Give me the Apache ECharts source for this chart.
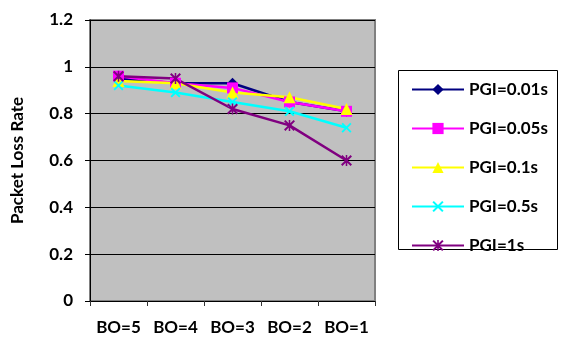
<!DOCTYPE html>
<html><head><meta charset="utf-8">
<script src="https://cdn.jsdelivr.net/npm/echarts@6/dist/echarts.min.js"></script>
<style>html,body{margin:0;padding:0;background:#fff}#c{width:561px;height:338px}</style>
</head><body><div id="c"></div>
<script>
const categories = ['BO=5', 'BO=4', 'BO=3', 'BO=2', 'BO=1'];
const seriesNames = ['PGI=0.01s', 'PGI=0.05s', 'PGI=0.1s', 'PGI=0.5s', 'PGI=1s'];
const pgi001 = [0.95, 0.93, 0.93, 0.85, 0.81];
const pgi005 = [0.96, 0.93, 0.91, 0.85, 0.81];
const pgi01  = [0.94, 0.93, 0.89, 0.87, 0.82];
const pgi05  = [0.92, 0.89, 0.85, 0.81, 0.74];
const pgi1   = [0.96, 0.95, 0.82, 0.75, 0.60];
const yTickLabels = ['0', '0.2', '0.4', '0.6', '0.8', '1', '1.2'];

const FONT = 'Lato';
const xPath = 'path://M0,1.3L1.3,0L5,3.7L8.7,0L10,1.3L6.3,5L10,8.7L8.7,10L5,6.3L1.3,10L0,8.7L3.7,5Z';
const starPath = 'path://M0,1.3L1.3,0L5,3.7L8.7,0L10,1.3L6.3,5L10,8.7L8.7,10L5,6.3L1.3,10L0,8.7L3.7,5ZM4.3,0L5.7,0L5.7,10L4.3,10Z';

const styles = [
  {color: '#000080', symbol: 'diamond', size: 11},
  {color: '#FF00FF', symbol: 'rect', size: 11},
  {color: '#FFFF00', symbol: 'triangle', size: 12},
  {color: '#00FFFF', symbol: xPath, size: 10},
  {color: '#800080', symbol: starPath, size: 11}
];
const dataSets = [pgi001, pgi005, pgi01, pgi05, pgi1];

const chart = echarts.init(document.getElementById('c'), null, {renderer: 'canvas'});
chart.setOption({
  animation: false,
  backgroundColor: '#fff',
  grid: {left: 90, top: 20, width: 285, height: 281, show: true,
         backgroundColor: '#C0C0C0', borderColor: '#808080', borderWidth: 2},
  graphic: [{type: 'rect', shape: {x: 398.5, y: 70.5, width: 159, height: 179},
             style: {fill: '#fff', stroke: '#000', lineWidth: 1}, z: 0}],
  legend: {
    orient: 'vertical', left: 398, top: 70, padding: [11, 8, 11, 13],
    itemWidth: 52, itemHeight: 14, itemGap: 22, z: 10,
    textStyle: {fontFamily: FONT, fontWeight: 'bold', fontSize: 17, color: '#000'},
    data: seriesNames
  },
  xAxis: {
    type: 'category', data: categories, boundaryGap: true,
    axisLine: {lineStyle: {color: '#000', width: 1}},
    axisTick: {show: true, alignWithLabel: false, interval: 0, length: 5, lineStyle: {color: '#333'}},
    axisLabel: {interval: 0, hideOverlap: false, fontFamily: FONT, fontWeight: 'bold', fontSize: 17, color: '#000', margin: 18},
    splitLine: {show: false}
  },
  yAxis: {
    type: 'value', min: 0, max: 1.2, interval: 0.2,
    name: 'Packet Loss Rate', nameLocation: 'middle', nameRotate: 90, nameGap: 64,
    nameTextStyle: {fontFamily: FONT, fontWeight: 'bold', fontSize: 17, color: '#000'},
    axisLine: {show: true, lineStyle: {color: '#000', width: 1}},
    axisTick: {show: true, length: 5, lineStyle: {color: '#000'}},
    axisLabel: {fontFamily: FONT, fontWeight: 'bold', fontSize: 17, color: '#000', margin: 17,
      formatter: (v, i) => yTickLabels[i]},
    splitLine: {show: true, lineStyle: {color: '#000', width: 1}}
  },
  series: dataSets.map((d, i) => ({
    name: seriesNames[i], type: 'line', data: d,
    symbol: styles[i].symbol, symbolSize: styles[i].size, showAllSymbol: true,
    lineStyle: {color: styles[i].color, width: 2.5},
    itemStyle: {color: styles[i].color, borderWidth: 0}
  }))
});
</script></body></html>
